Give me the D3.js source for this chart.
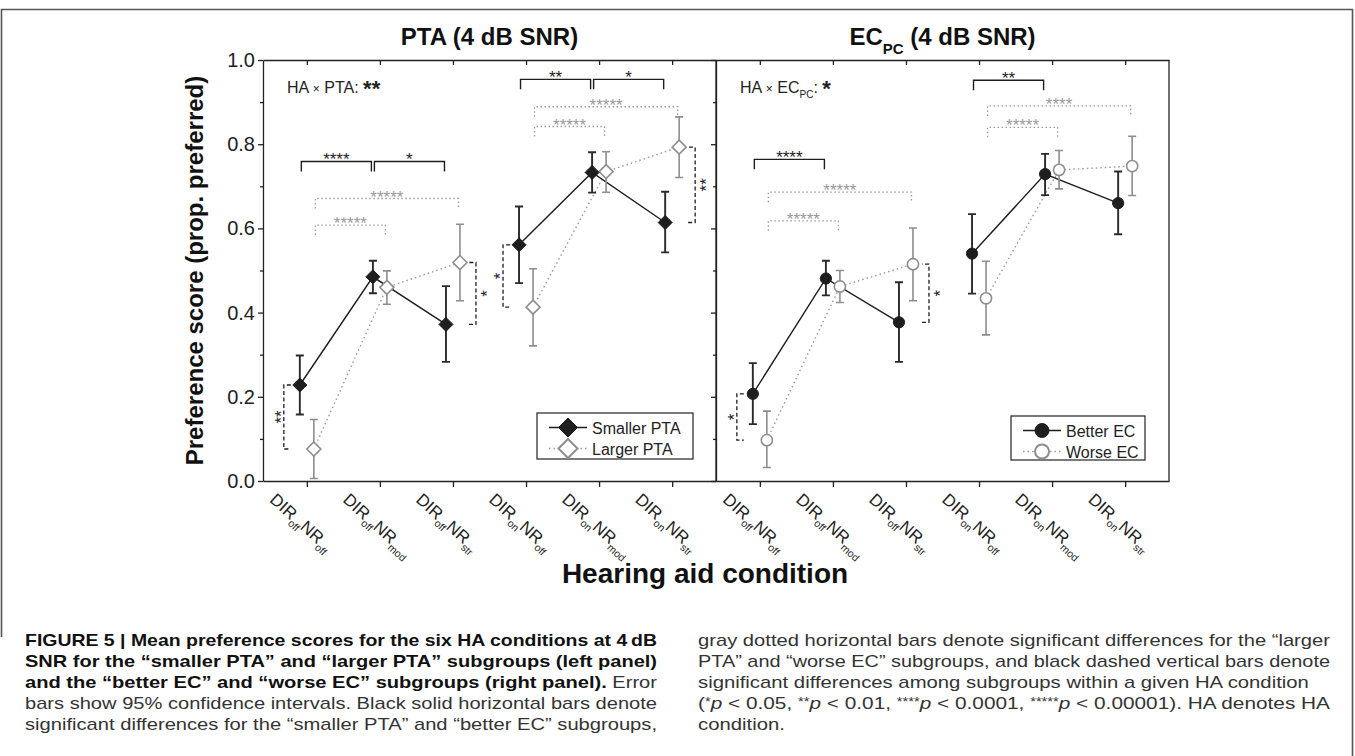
<!DOCTYPE html>
<html>
<head>
<meta charset="utf-8">
<script src="https://cdn.jsdelivr.net/npm/d3@7"></script>
<style>
  body { margin: 0; background: #fff; }
  svg { display: block; }
</style>
</head>
<body>
<div id="chart"></div>
<script>
// ---- data ----
const dirSub = ["off", "off", "off", "on", "on", "on"];
const nrSub = ["off", "mod", "str", "off", "mod", "str"];
const yTicks = [0, 0.2, 0.4, 0.6, 0.8, 1.0];
const yMinor = [0.1, 0.3, 0.5, 0.7, 0.9];

const smallerPTA   = [0.228, 0.485, 0.372, 0.561, 0.733, 0.614];
const smallerPTALo = [0.158, 0.446, 0.283, 0.470, 0.685, 0.543];
const smallerPTAHi = [0.298, 0.523, 0.463, 0.652, 0.781, 0.687];
const largerPTA    = [0.076, 0.460, 0.519, 0.413, 0.735, 0.793];
const largerPTALo  = [0.006, 0.420, 0.428, 0.321, 0.686, 0.721];
const largerPTAHi  = [0.146, 0.499, 0.610, 0.504, 0.782, 0.865];

const betterEC   = [0.207, 0.481, 0.377, 0.540, 0.729, 0.660];
const betterECLo = [0.135, 0.441, 0.283, 0.445, 0.679, 0.586];
const betterECHi = [0.280, 0.523, 0.472, 0.634, 0.777, 0.735];
const worseEC    = [0.097, 0.462, 0.515, 0.434, 0.739, 0.748];
const worseECLo  = [0.032, 0.424, 0.428, 0.347, 0.694, 0.678];
const worseECHi  = [0.166, 0.500, 0.601, 0.522, 0.785, 0.819];

// horizontal significance bars: series, from cond, to cond, level, label
const leftBars = [
  {s: "black", a: 1, b: 2, v: 0.759, label: "****"},
  {s: "black", a: 2, b: 3, v: 0.759, label: "*"},
  {s: "black", a: 4, b: 5, v: 0.954, label: "**"},
  {s: "black", a: 5, b: 6, v: 0.954, label: "*"},
  {s: "gray", a: 1, b: 2, v: 0.608, label: "*****"},
  {s: "gray", a: 1, b: 3, v: 0.671, label: "*****"},
  {s: "gray", a: 4, b: 5, v: 0.842, label: "*****"},
  {s: "gray", a: 4, b: 6, v: 0.889, label: "*****"}
];
const rightBars = [
  {s: "black", a: 1, b: 2, v: 0.764, label: "****"},
  {s: "black", a: 4, b: 5, v: 0.952, label: "**"},
  {s: "gray", a: 1, b: 2, v: 0.618, label: "*****"},
  {s: "gray", a: 1, b: 3, v: 0.686, label: "*****"},
  {s: "gray", a: 4, b: 5, v: 0.840, label: "*****"},
  {s: "gray", a: 4, b: 6, v: 0.891, label: "****"}
];
// vertical dashed bars between subgroups (side -1 = left of the points)
const leftVBars = [
  {c: 1, side: -1, label: "**"},
  {c: 3, side: 1, label: "*"},
  {c: 4, side: -1, label: "*"},
  {c: 6, side: 1, label: "**"}
];
const rightVBars = [
  {c: 1, side: -1, label: "*"},
  {c: 3, side: 1, label: "*"}
];

const FONT = "'Liberation Sans', Arial, Helvetica, sans-serif";
const BLACK = "#1e1e1e", GRAY = "#8e8e8e";

const svg = d3.select("#chart").append("svg")
  .attr("width", 1355).attr("height", 756)
  .style("font-family", FONT);

// frame
svg.append("path")
  .attr("d", "M1.5,637 L1.5,9.5 L1352.5,9.5 L1352.5,756")
  .attr("fill", "none").attr("stroke", "#555").attr("stroke-width", 1.6);

const y = d3.scaleLinear().domain([0, 1]).range([481, 60]);

const panels = [
  {x0: 263, x1: 716, title: "PTA", black: [smallerPTA, smallerPTALo, smallerPTAHi],
   gray: [largerPTA, largerPTALo, largerPTAHi], bars: leftBars, vbars: leftVBars,
   marker: "diamond", names: ["Smaller PTA", "Larger PTA"], labels: true,
   legend: {x: 537, y: 413, w: 156, h: 46}},
  {x0: 716, x1: 1169, title: "EC", black: [betterEC, betterECLo, betterECHi],
   gray: [worseEC, worseECLo, worseECHi], bars: rightBars, vbars: rightVBars,
   marker: "circle", names: ["Better EC", "Worse EC"], labels: false,
   legend: {x: 1011, y: 416, w: 134, h: 44}}
];

function markerPath(kind, r) {
  if (kind === "diamond") return `M0,${-r}L${r},0L0,${r}L${-r},0Z`;
  return d3.symbol(d3.symbolCircle, Math.PI * r * r)();
}

panels.forEach(p => {
  const x = d3.scaleLinear().domain([0.4, 6.6]).range([p.x0, p.x1]);
  const g = svg.append("g");
  const cats = d3.range(1, 7);
  const off = {black: -7, gray: 7};
  const px = (s, c) => x(c) + off[s];
  const data = {black: p.black, gray: p.gray};

  // axes
  const ax = (sel) => sel.selectAll("path, line").attr("stroke", "#222").attr("stroke-width", 1.3);
  g.append("g").attr("transform", `translate(0,${y(0)})`)
    .call(d3.axisBottom(x).tickValues(cats).tickSize(6).tickSizeOuter(0).tickFormat(""))
    .call(ax);
  g.append("g").attr("transform", `translate(0,${y(1)})`)
    .call(d3.axisTop(x).tickValues(cats).tickSize(-5).tickSizeOuter(0).tickFormat(""))
    .call(ax);
  const yl = g.append("g").attr("transform", `translate(${p.x0},0)`)
    .call(d3.axisLeft(y).tickValues(yTicks).tickSize(5).tickSizeOuter(0)
      .tickPadding(3).tickFormat(p.labels ? d3.format(".1f") : ""))
    .call(ax);
  yl.selectAll("text").attr("font-size", 20).attr("font-family", FONT).attr("fill", "#222");
  g.append("g").attr("transform", `translate(${p.x0},0)`)
    .call(d3.axisLeft(y).tickValues(yMinor).tickSize(3).tickSizeOuter(0).tickFormat(""))
    .call(ax).select(".domain").remove();
  g.append("line").attr("x1", p.x1).attr("x2", p.x1).attr("y1", y(0)).attr("y2", y(1))
    .attr("stroke", "#222").attr("stroke-width", 1.3);

  // x tick labels
  cats.forEach(c => {
    const t = g.append("text")
      .attr("transform", `translate(${x(c) - 38},${501}) rotate(42)`)
      .attr("font-size", 17).attr("fill", "#222");
    t.append("tspan").text("DIR");
    t.append("tspan").attr("font-size", 10.5).attr("dy", 5).text(dirSub[c - 1]);
    t.append("tspan").attr("dy", -5).text("NR");
    t.append("tspan").attr("font-size", 10.5).attr("dy", 5).text(nrSub[c - 1]);
  });

  // panel title
  const tt = g.append("text").attr("x", (p.x0 + p.x1) / 2).attr("y", 45)
    .attr("text-anchor", "middle").attr("font-size", 24).attr("font-weight", "bold").attr("fill", "#111");
  if (p.title === "PTA") {
    tt.text("PTA (4 dB SNR)");
  } else {
    tt.append("tspan").text("EC");
    tt.append("tspan").attr("font-size", 15).attr("dy", 9).text("PC");
    tt.append("tspan").attr("dy", -9).text(" (4 dB SNR)");
  }

  // interaction text
  const it = g.append("text").attr("x", p.x0 + 24).attr("y", 93)
    .attr("font-size", 16).attr("fill", "#222");
  it.append("tspan").text("HA ");
  it.append("tspan").attr("font-size", 12).text("×");
  if (p.title === "PTA") {
    it.append("tspan").text(" PTA: ");
    it.append("tspan").attr("font-size", 22).attr("font-weight", "bold").attr("dy", 3).text("**");
  } else {
    it.append("tspan").text(" EC");
    it.append("tspan").attr("font-size", 10).attr("dy", 5).text("PC");
    it.append("tspan").attr("dy", -5).text(": ");
    it.append("tspan").attr("font-size", 22).attr("font-weight", "bold").attr("dy", 3).text("*");
  }

  // significance bars
  p.bars.forEach(b => {
    const xa = px(b.s, b.a) + 1.5, xb = px(b.s, b.b) - 1.5, yy = y(b.v);
    const isBlack = b.s === "black";
    g.append("path")
      .attr("d", `M${xa},${yy + 10}V${yy}H${xb}V${yy + 10}`)
      .attr("fill", "none")
      .attr("stroke", isBlack ? BLACK : "#9a9a9a")
      .attr("stroke-width", isBlack ? 1.4 : 1.3)
      .attr("stroke-dasharray", isBlack ? null : "1.5,2.5");
    g.append("text").attr("x", (xa + xb) / 2).attr("y", yy + 4)
      .attr("text-anchor", "middle").attr("font-size", 17)
      .attr("fill", isBlack ? BLACK : "#9a9a9a").text(b.label);
  });
  p.vbars.forEach(v => {
    const c = v.c - 1;
    const xx = x(v.c) + v.side * 23;
    const ya = y(p.black[0][c]), yb = y(p.gray[0][c]);
    const leg = -v.side * 7;
    g.append("path")
      .attr("d", `M${xx + leg},${ya}H${xx}V${yb}H${xx + leg}`)
      .attr("fill", "none").attr("stroke", BLACK).attr("stroke-width", 1.3)
      .attr("stroke-dasharray", "4,2.5");
    const cx = xx + v.side * 7 + 9.9, cy = (ya + yb) / 2;
    g.append("text").attr("transform", `translate(${cx},${cy}) rotate(-90)`)
      .attr("text-anchor", "middle").attr("font-size", 17).attr("fill", BLACK).text(v.label);
  });

  // lines (two segments: DIR off, DIR on)
  const line = d3.line().x(d => d[0]).y(d => d[1]);
  ["gray", "black"].forEach(s => {
    [[0, 1, 2], [3, 4, 5]].forEach(seg => {
      g.append("path")
        .attr("d", line(seg.map(i => [px(s, i + 1), y(data[s][0][i])])))
        .attr("fill", "none")
        .attr("stroke", s === "black" ? BLACK : "#9a9a9a")
        .attr("stroke-width", 1.4)
        .attr("stroke-dasharray", s === "black" ? null : "1.5,3");
    });
  });

  // error bars and markers
  ["gray", "black"].forEach(s => {
    const [m, lo, hi] = data[s];
    const col = s === "black" ? "#2a2a2a" : GRAY;
    const sw = s === "black" ? 1.9 : 1.6;
    cats.forEach(c => {
      const i = c - 1, xx = px(s, c);
      g.append("path")
        .attr("d", `M${xx - 4},${y(hi[i])}H${xx + 4}M${xx},${y(hi[i])}V${y(lo[i])}M${xx - 4},${y(lo[i])}H${xx + 4}`)
        .attr("fill", "none").attr("stroke", col).attr("stroke-width", sw);
    });
    cats.forEach(c => {
      const i = c - 1;
      g.append("path")
        .attr("d", markerPath(p.marker, p.marker === "diamond" ? 7 : 5.6))
        .attr("transform", `translate(${px(s, c)},${y(m[i])})`)
        .attr("fill", s === "black" ? BLACK : "#fff")
        .attr("stroke", s === "black" ? BLACK : GRAY)
        .attr("stroke-width", s === "black" ? 1 : 1.6);
    });
  });

  // legend
  const L = p.legend;
  const lg = g.append("g");
  lg.append("rect").attr("x", L.x).attr("y", L.y).attr("width", L.w).attr("height", L.h)
    .attr("fill", "#fff").attr("stroke", "#333").attr("stroke-width", 1.3);
  ["black", "gray"].forEach((s, k) => {
    const ly = L.y + 14.5 + k * 21;
    lg.append("line").attr("x1", L.x + 12).attr("x2", L.x + 50).attr("y1", ly).attr("y2", ly)
      .attr("stroke", s === "black" ? BLACK : "#9a9a9a").attr("stroke-width", 1.4)
      .attr("stroke-dasharray", s === "black" ? null : "1.5,3");
    lg.append("path")
      .attr("d", markerPath(p.marker, p.marker === "diamond" ? 9.5 : 7))
      .attr("transform", `translate(${L.x + 31},${ly})`)
      .attr("fill", s === "black" ? BLACK : "#fff")
      .attr("stroke", s === "black" ? BLACK : GRAY).attr("stroke-width", s === "black" ? 1 : 2);
    lg.append("text").attr("x", L.x + 55).attr("y", ly + 6)
      .attr("font-size", 16).attr("fill", "#222").text(p.names[k]);
  });
});

// shared axis titles
svg.append("text").attr("transform", `translate(203,${(y(0) + y(1)) / 2}) rotate(-90)`)
  .attr("text-anchor", "middle").attr("font-size", 24).attr("font-weight", "bold").attr("fill", "#111")
  .text("Preference score (prop. preferred)");
svg.append("text").attr("x", 705).attr("y", 583)
  .attr("text-anchor", "middle").attr("font-size", 28).attr("font-weight", "bold").attr("fill", "#111")
  .text("Hearing aid condition");

// caption (condensed look: glyphs squeezed to the column width)
const capLeft = [
  [["b", "FIGURE 5 | Mean preference scores for the six HA conditions at 4\u2009dB"]],
  [["b", "SNR for the \u201csmaller PTA\u201d and \u201clarger PTA\u201d subgroups (left panel)"]],
  [["b", "and the \u201cbetter EC\u201d and \u201cworse EC\u201d subgroups (right panel)."], ["n", " Error"]],
  [["n", "bars show 95% confidence intervals. Black solid horizontal bars denote"]],
  [["n", "significant differences for the \u201csmaller PTA\u201d and \u201cbetter EC\u201d subgroups,"]]
];
const capRight = [
  [["n", "gray dotted horizontal bars denote significant differences for the \u201clarger"]],
  [["n", "PTA\u201d and \u201cworse EC\u201d subgroups, and black dashed vertical bars denote"]],
  [["n", "significant differences among subgroups within a given HA condition"]],
  [["n", "("], ["s", "*"], ["i", "p"], ["n", " < 0.05, "], ["s", "**"], ["i", "p"], ["n", " < 0.01, "],
   ["s", "****"], ["i", "p"], ["n", " < 0.0001, "], ["s", "*****"], ["i", "p"], ["n", " < 0.00001). HA denotes HA"]],
  [["n", "condition."]]
];
const capJustify = {left: [true, true, true, true, true], right: [true, true, false, true, false]};

function caption(lines, x0, width, just) {
  const items = lines.map((parts, k) => {
    const t = svg.append("text").attr("x", x0).attr("y", 646 + k * 21)
      .attr("font-size", 17).attr("fill", "#333")
      .attr("xml:space", "preserve");
    parts.forEach(([kind, str]) => {
      const s = t.append("tspan").text(str);
      if (kind === "b") s.attr("font-weight", "bold").attr("fill", "#111");
      if (kind === "i") s.attr("font-style", "italic");
      if (kind === "s") s.attr("font-size", 12).attr("baseline-shift", "25%");
    });
    return {t, w: t.node().getComputedTextLength(), j: just[k]};
  });
  const factors = items.filter(d => d.j).map(d => width / d.w);
  const mean = d3.mean(factors);
  items.forEach(d => {
    const len = d.j ? width : d.w * mean;
    d.t.attr("textLength", len).attr("lengthAdjust", "spacingAndGlyphs");
  });
}
caption(capLeft, 25, 632, capJustify.left);
caption(capRight, 698, 632, capJustify.right);
</script>
</body>
</html>
